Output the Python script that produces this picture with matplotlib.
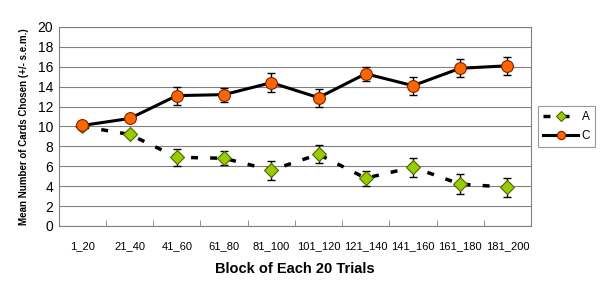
import matplotlib.pyplot as plt
import numpy as np

plt.rcParams['font.family'] = ['Liberation Sans', 'DejaVu Sans']

blocks = ['1_20', '21_40', '41_60', '61_80', '81_100', '101_120',
          '121_140', '141_160', '161_180', '181_200']
a_mean = [10.0, 9.2, 6.9, 6.8, 5.6, 7.2, 4.8, 5.9, 4.2, 3.9]
a_err = [0.3, 0.3, 0.85, 0.7, 0.95, 0.9, 0.75, 0.95, 1.0, 0.95]
c_mean = [10.1, 10.8, 13.1, 13.2, 14.4, 12.9, 15.3, 14.1, 15.85, 16.1]
c_err = [0.3, 0.3, 0.9, 0.7, 0.95, 0.9, 0.7, 0.9, 0.9, 0.9]

x = np.arange(len(blocks))

fig = plt.figure(figsize=(6, 3), dpi=100)
ax = fig.add_axes([0.098, 0.247, 0.787, 0.663])

ax.errorbar(x, a_mean, yerr=a_err, fmt='none', ecolor='black', elinewidth=1,
            capsize=3, capthick=1, zorder=3)
ax.plot(x, a_mean, color='black', lw=2.5, ls=(0, (2, 3.5)), marker='D',
        markersize=7, markerfacecolor='#99cc00', markeredgecolor='#4d6600',
        markeredgewidth=0.8, label='A', zorder=4)
ax.errorbar(x, c_mean, yerr=c_err, fmt='none', ecolor='black', elinewidth=1,
            capsize=3, capthick=1, zorder=3)
ax.plot(x, c_mean, color='black', lw=2.2, marker='o', markersize=8.5,
        markerfacecolor='#ff6600', markeredgecolor='#802000',
        markeredgewidth=0.8, label='C', zorder=4)

ax.set_xlim(-0.5, len(blocks) - 0.5)
ax.set_ylim(0, 20)
ax.set_yticks(range(0, 21, 2))
ax.tick_params(axis='y', labelsize=10, length=0, pad=4)
ax.set_xticks(x)
ax.set_xticklabels(blocks, fontsize=8)
ax.tick_params(axis='x', length=0, pad=11)
ax.set_xticks(np.arange(0.5, len(blocks) - 1, 1), minor=True)
ax.tick_params(axis='x', which='minor', direction='in', length=4, color='#808080')
ax.grid(axis='y', color='#808080', lw=0.8)
ax.set_axisbelow(True)
for s in ax.spines.values():
    s.set_color('#808080')
    s.set_linewidth(0.8)

ax.set_ylabel('Mean Number of Cards Chosen (+/- s.e.m.)', fontsize=7,
              fontweight='bold', labelpad=6)
ax.set_xlabel('Block of Each 20 Trials', fontsize=10.5, fontweight='bold',
              labelpad=8)

leg = ax.legend(loc='center left', bbox_to_anchor=(1.015, 0.5), fontsize=8.5,
                frameon=True, fancybox=False, edgecolor='#808080',
                markerscale=0.7, handlelength=3.0, handletextpad=0.3,
                borderpad=0.4, labelspacing=0.6, borderaxespad=0)
leg.get_frame().set_linewidth(0.8)

fig.savefig('out.png', dpi=100)
